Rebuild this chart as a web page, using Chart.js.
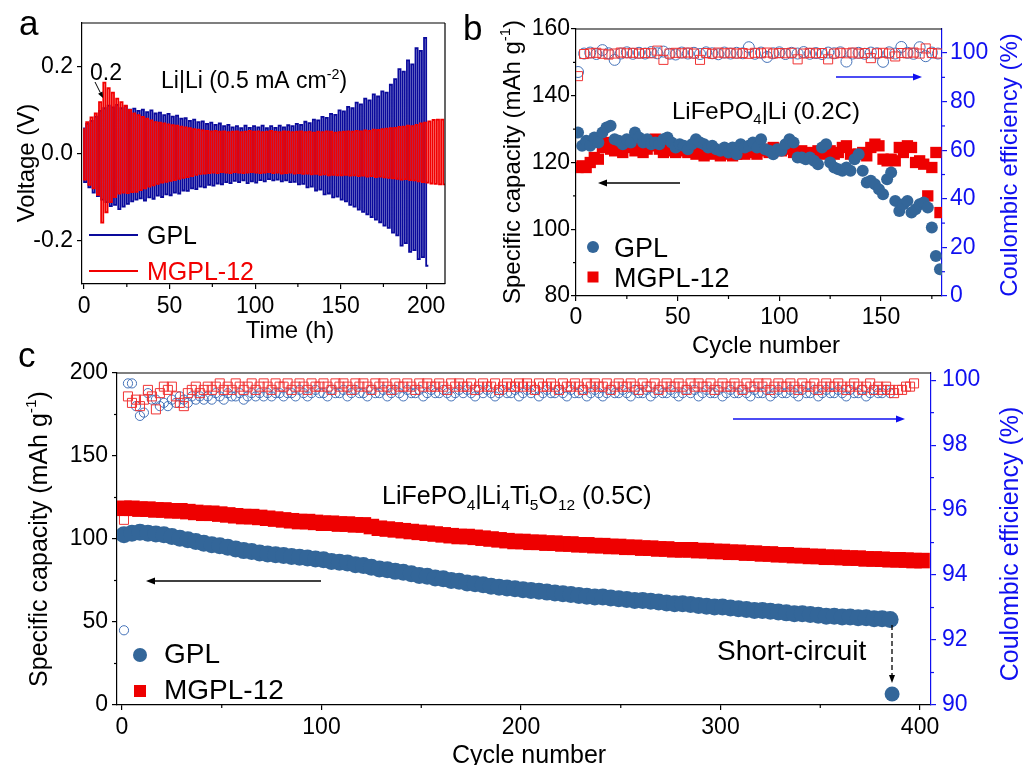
<!DOCTYPE html>
<html>
<head>
<meta charset="utf-8">
<script src="https://cdn.jsdelivr.net/npm/chart.js@4.4.1/dist/chart.umd.min.js"></script>
<style>
  html, body { margin: 0; padding: 0; background: #fff; }
  #wrap { position: relative; width: 1024px; height: 765px; overflow: hidden; background: #fff; }
  #wrap canvas { position: absolute; left: 0; top: 0; }
</style>
</head>
<body>
<div id="wrap">
  <canvas id="chartA" width="1024" height="765"></canvas>
  <canvas id="chartB" width="1024" height="765"></canvas>
  <canvas id="chartC" width="1024" height="765"></canvas>
</div>
<script>
// ---------------------------------------------------------------------------
// (a) Li|Li symmetric cells, 0.5 mA cm-2: plateau voltage of every half cycle.
//     Each cycle lasts 2 x aHalfCycleHours; upper = plating plateau, lower = stripping plateau.
// ---------------------------------------------------------------------------
const aHalfCycleHours = 1.25;
const aGplUpper = [
  0.060, 0.068, 0.075, 0.085, 0.098, 0.104, 0.110, 0.106, 0.112, 0.104,
  0.109, 0.101, 0.103, 0.098, 0.101, 0.095, 0.099, 0.092, 0.094, 0.088,
  0.091, 0.085, 0.087, 0.080, 0.081, 0.075, 0.078, 0.072, 0.074, 0.068,
  0.071, 0.066, 0.069, 0.063, 0.066, 0.060, 0.063, 0.058, 0.064, 0.059,
  0.063, 0.060, 0.064, 0.058, 0.063, 0.059, 0.064, 0.060, 0.065, 0.063,
  0.068, 0.066, 0.073, 0.070, 0.078, 0.076, 0.084, 0.082, 0.091, 0.089,
  0.099, 0.097, 0.107, 0.104, 0.117, 0.113, 0.126, 0.122, 0.136, 0.131,
  0.143, 0.140, 0.158, 0.171, 0.194, 0.188, 0.214, 0.205, 0.242, 0.236,
  0.266
];
const aGplLower = [
  -0.066, -0.078, -0.090, -0.098, -0.106, -0.112, -0.121, -0.118, -0.128, -0.122,
  -0.116, -0.110, -0.106, -0.103, -0.108, -0.101, -0.104, -0.097, -0.100, -0.094,
  -0.096, -0.090, -0.092, -0.085, -0.086, -0.080, -0.082, -0.076, -0.078, -0.072,
  -0.074, -0.069, -0.071, -0.066, -0.068, -0.063, -0.066, -0.062, -0.068, -0.064,
  -0.067, -0.061, -0.064, -0.059, -0.062, -0.060, -0.064, -0.062, -0.066, -0.065,
  -0.071, -0.070, -0.078, -0.076, -0.085, -0.083, -0.094, -0.092, -0.101, -0.099,
  -0.106, -0.110, -0.118, -0.122, -0.129, -0.134, -0.140, -0.146, -0.152, -0.158,
  -0.166, -0.171, -0.182, -0.188, -0.212, -0.206, -0.226, -0.222, -0.243, -0.238,
  -0.258
];
const aMgplUpper = [
  0.058, 0.072, 0.083, 0.092, 0.118, 0.163, 0.150, 0.140, 0.126, 0.118,
  0.110, 0.100, 0.092, 0.088, 0.084, 0.080, 0.076, 0.072, 0.071, 0.069,
  0.067, 0.065, 0.064, 0.062, 0.060, 0.058, 0.056, 0.055, 0.053, 0.052,
  0.051, 0.052, 0.050, 0.051, 0.049, 0.050, 0.051, 0.049, 0.050, 0.052,
  0.050, 0.051, 0.049, 0.050, 0.052, 0.050, 0.049, 0.051, 0.050, 0.049,
  0.050, 0.051, 0.049, 0.050, 0.048, 0.050, 0.049, 0.051, 0.050, 0.048,
  0.049, 0.050, 0.051, 0.050, 0.052, 0.051, 0.053, 0.052, 0.055, 0.054,
  0.056, 0.057, 0.058, 0.059, 0.061, 0.062, 0.064, 0.063, 0.066, 0.069,
  0.071, 0.074, 0.077, 0.078, 0.078
];
const aMgplLower = [
  -0.060, -0.072, -0.080, -0.095, -0.159, -0.135, -0.112, -0.100, -0.092, -0.090,
  -0.091, -0.089, -0.088, -0.084, -0.080, -0.076, -0.073, -0.070, -0.067, -0.065,
  -0.063, -0.061, -0.058, -0.056, -0.054, -0.052, -0.049, -0.047, -0.046, -0.045,
  -0.044, -0.045, -0.043, -0.044, -0.045, -0.043, -0.044, -0.045, -0.044, -0.043,
  -0.044, -0.045, -0.044, -0.043, -0.045, -0.044, -0.046, -0.045, -0.044, -0.046,
  -0.045, -0.047, -0.046, -0.048, -0.047, -0.049, -0.048, -0.050, -0.049, -0.050,
  -0.050, -0.049, -0.051, -0.050, -0.052, -0.051, -0.053, -0.052, -0.054, -0.053,
  -0.055, -0.056, -0.057, -0.058, -0.060, -0.059, -0.061, -0.062, -0.064, -0.066,
  -0.067, -0.069, -0.070, -0.071, -0.071
];
const aTimeTicks = [0, 50, 100, 150, 200];
const aTimeMinor = [25, 75, 125, 175];
const aVoltTicks = [-0.2, 0, 0.2];

// ---------------------------------------------------------------------------
// (b) LiFePO4|Li at 0.2C. Capacity on cycles 1,3,5,...; efficiency on cycles 1,4,7,...
// ---------------------------------------------------------------------------
const bCapCycleStep = 2;
const bGplCapacity = [
  129, 125, 126.5, 125, 127.5, 126, 129, 130.5, 131, 127,
  126.5, 125.5, 127, 126, 129, 127.5, 126, 127, 125.5, 126,
  125.5, 127, 127.5, 126, 124.5, 125.5, 125, 124, 125.5, 127,
  126, 125.5, 124.5, 125, 124, 123.5, 124.5, 123, 124.5, 122.5,
  125.5, 124.5, 125, 126, 124.5, 127, 124, 123.5, 122.5, 124,
  123.5, 125.5, 127, 126, 121.5, 121.5, 121, 121.5, 120.5, 119.5,
  124.5, 125.5, 120, 118.5, 118, 117.5, 118.5, 117.5, 121, 122.5,
  117.5, 114, 114.5, 113.5, 112, 110.5, 115, 117, 108.5, 105.5,
  107.5, 108.5, 105, 106, 107.5, 108, 106.5, 100.5, 92, 88
];
const bMgplCapacity = [
  118.5, 119, 118.5, 120, 121.5, 121, 124.5, 126, 124, 123.5,
  124.5, 123, 124.5, 125, 123.5, 124.5, 123, 124, 125, 127,
  124, 123, 124.5, 123.5, 123, 123.5, 124, 123, 123.5, 122.5,
  123, 122, 123, 122.5, 123.5, 122, 122.5, 123, 122, 122.5,
  123.5, 122.5, 124, 123, 122.5, 123.5, 124, 123, 124.5, 124,
  123.5, 124.5, 124, 123, 122.5, 123.5, 122.5, 123, 122.5, 123.5,
  122.5, 123, 123.5, 122.5, 123, 124.5, 125, 122.5, 122, 122.5,
  123, 122, 124.5, 125.5, 125, 121, 120.5, 121, 120.5, 124.5,
  123, 125, 124.5, 120, 120.5, 119.5, 110, 118.5, 123, 105
];
const bCeCycleStep = 3;
const bGplCE = [
  92.2, 99.8, 100.2, 99.6, 101.2, 99.9, 97.2, 99.8, 100.3, 99.7,
  100.1, 99.8, 100.4, 99.9, 100.6, 99.7, 99.4, 100.2, 99.8, 100.1,
  99.6, 100.3, 99.9, 99.5, 100.2, 99.8, 100.1, 99.9, 102.4, 99.7,
  100.2, 98.4, 99.9, 100.3, 99.6, 100.1, 99.8, 100.4, 99.7, 100.0,
  99.6, 100.2, 99.9, 100.3, 96.5, 99.8, 100.1, 99.7, 100.2, 99.9,
  96.4, 100.3, 99.8, 102.5, 100.1, 99.7, 102.4, 98.7, 100.2, 99.8
];
const bMgplCE = [
  90.5, 99.6, 99.9, 100.1, 99.7, 99.4, 99.8, 100.2, 99.9, 100.1,
  99.8, 100.0, 99.9, 101.0, 97.2, 99.8, 100.1, 99.9, 100.2, 99.8,
  97.2, 100.0, 99.7, 100.2, 99.9, 100.1, 99.8, 100.0, 99.7, 100.1,
  99.9, 100.2, 99.8, 100.0, 99.9, 100.1, 97.4, 99.8, 100.1, 99.9,
  100.0, 97.4, 99.8, 100.1, 99.9, 100.2, 99.8, 100.0, 97.9, 99.9,
  100.1, 99.8, 98.6, 100.0, 99.9, 100.2, 99.8, 101.9, 100.0, 99.8
];
const bCycleTicks = [0, 50, 100, 150];
const bCycleMinor = [25, 75, 125, 175];
const bCapTicks = [80, 100, 120, 140, 160];
const bCapMinor = [90, 110, 130, 150];
const bCeTicks = [0, 20, 40, 60, 80, 100];
const bCeMinor = [10, 30, 50, 70, 90];

// ---------------------------------------------------------------------------
// (c) LiFePO4|Li4Ti5O12 at 0.5C. Capacity on cycles 1,5,9,...; efficiency on cycles 1,3,5,...
// ---------------------------------------------------------------------------
const cCapCycleStep = 4;
const cGplCapacity = [
  102.5, 103.5, 104, 103.5, 103, 102.5, 101.5, 100.5, 99.5, 98.5,
  97.5, 96.5, 96, 95, 94, 93, 92.5, 91.5, 91, 90.5,
  90, 89.5, 89, 88.5, 88, 87.5, 86.5, 86, 85.5, 84.5,
  84, 83, 82, 81.5, 80.5, 80, 79, 78, 77.5, 76.5,
  76, 75, 74.5, 73.5, 73, 72.5, 71.5, 71, 70.5, 70,
  69.5, 69, 68.5, 68, 67.5, 67, 66.5, 66, 65.5, 65,
  65, 64.5, 64, 63.5, 63, 63, 62.5, 62, 61.5, 61,
  61, 60.5, 60, 59.5, 59, 59, 58.5, 58, 57.5, 57,
  57, 56.5, 56, 55.5, 55, 55, 54.5, 54, 53.5, 53.5,
  53, 53, 52.5, 52.5, 52, 52, 51.5
];
const cMgplCapacity = [
  118.5, 118.5, 118, 118, 117.5, 117.5, 117, 117, 116.5, 116,
  115.5, 115.5, 115, 114.5, 114, 113.5, 113.5, 113, 112.5, 112,
  111.5, 111, 110.5, 110.5, 110, 109.5, 109.5, 109, 109, 108.5,
  108.5, 107.5, 106.5, 106, 105.5, 105, 104.5, 104, 103.5, 103,
  102.5, 102, 101.5, 101.5, 101, 100.5, 100, 99.5, 99, 98.5,
  98.5, 98, 98, 97.5, 97.5, 97, 97, 96.5, 96.5, 96,
  96, 95.5, 95.5, 95, 95, 94.5, 94.5, 94, 94, 93.5,
  93.5, 93.5, 93, 93, 92.5, 92.5, 92, 92, 91.5, 91.5,
  91, 91, 90.5, 90.5, 90, 90, 89.5, 89.5, 89, 89,
  88.8, 88.5, 88.5, 88, 88, 87.8, 87.5, 87.5, 87.3, 87,
  87
];
const cCeCycleStep = 2;
const cGplCE = [
  92.3, 99.9, 99.9, 99.2, 98.9, 99.0, 99.6, 99.4, 99.4, 99.2, 99.3, 99.2, 99.4, 99.3, 99.5, 99.4, 99.3, 99.5, 99.4, 99.5,
  99.4, 99.5, 99.4, 99.6, 99.5, 99.4, 99.6, 99.5, 99.5, 99.6, 99.4, 99.5, 99.6, 99.5, 99.6, 99.5, 99.6, 99.5, 99.6, 99.6,
  99.5, 99.6, 99.6, 99.5, 99.7, 99.6, 99.5, 99.6, 99.7, 99.6, 99.6, 99.5, 99.7, 99.6, 99.6, 99.7, 99.5, 99.6, 99.7, 99.6,
  99.6, 99.5, 99.7, 99.6, 99.6, 99.7, 99.5, 99.6, 99.7, 99.6, 99.5, 99.7, 99.6, 99.6, 99.7, 99.5, 99.6, 99.7, 99.6, 99.6,
  99.7, 99.6, 99.5, 99.6, 99.7, 99.6, 99.7, 99.6, 99.5, 99.7, 99.6, 99.7, 99.6, 99.5, 99.6, 99.7, 99.6, 99.6, 99.7, 99.5,
  99.6, 99.7, 99.6, 99.7, 99.5, 99.6, 99.7, 99.6, 99.6, 99.7, 99.6, 99.5, 99.7, 99.6, 99.6, 99.7, 99.5, 99.6, 99.7, 99.6,
  99.5, 99.6, 99.7, 99.6, 99.6, 99.7, 99.6, 99.5, 99.7, 99.6, 99.6, 99.7, 99.5, 99.6, 99.7, 99.6, 99.6, 99.7, 99.6, 99.5,
  99.6, 99.7, 99.6, 99.7, 99.5, 99.6, 99.7, 99.6, 99.6, 99.7, 99.5, 99.6, 99.7, 99.6, 99.6, 99.7, 99.6, 99.5, 99.7, 99.6,
  99.6, 99.7, 99.5, 99.6, 99.7, 99.6, 99.6, 99.7, 99.6, 99.5, 99.7, 99.6, 99.6, 99.7, 99.5, 99.6, 99.7, 99.6, 99.6, 99.7,
  99.6, 99.5, 99.7, 99.6, 99.6, 99.7, 99.5, 99.6, 99.7, 99.6, 99.6, 99.7, 99.6
];
const cMgplCE = [
  95.7, 99.5, 99.3, 99.4, 99.2, 99.4, 99.7, 99.5, 99.1, 99.6, 99.8, 99.7, 99.8, 99.5, 99.3, 99.2, 99.6, 99.7, 99.8, 99.6,
  99.7, 99.8, 99.7, 99.8, 99.9, 99.7, 99.8, 99.7, 99.9, 99.8, 99.7, 99.8, 99.9, 99.7, 99.8, 99.9, 99.8, 99.7, 99.9, 99.8,
  99.8, 99.9, 99.7, 99.8, 99.9, 99.8, 99.7, 99.9, 99.8, 99.8, 99.9, 99.8, 99.7, 99.9, 99.8, 99.9, 99.8, 99.7, 99.9, 99.8,
  99.9, 99.8, 99.7, 99.9, 99.8, 99.9, 99.8, 99.7, 99.9, 99.8, 99.8, 99.9, 99.8, 99.7, 99.9, 99.8, 99.9, 99.8, 99.8, 99.9,
  99.8, 99.7, 99.9, 99.8, 99.9, 99.8, 99.8, 99.9, 99.7, 99.8, 99.9, 99.8, 99.8, 99.9, 99.7, 99.8, 99.9, 99.8, 99.8, 99.9,
  99.8, 99.9, 99.8, 99.7, 99.9, 99.8, 99.8, 99.9, 99.8, 99.7, 99.9, 99.8, 99.8, 99.9, 99.8, 99.7, 99.9, 99.8, 99.9, 99.8,
  99.8, 99.9, 99.7, 99.8, 99.9, 99.8, 99.8, 99.9, 99.8, 99.7, 99.9, 99.8, 99.8, 99.9, 99.7, 99.8, 99.9, 99.8, 99.8, 99.9,
  99.8, 99.7, 99.9, 99.8, 99.9, 99.8, 99.8, 99.9, 99.7, 99.8, 99.9, 99.8, 99.8, 99.9, 99.8, 99.7, 99.9, 99.8, 99.8, 99.9,
  99.8, 99.9, 99.7, 99.8, 99.9, 99.8, 99.8, 99.9, 99.8, 99.7, 99.9, 99.8, 99.8, 99.9, 99.7, 99.8, 99.9, 99.8, 99.8, 99.9,
  99.8, 99.7, 99.8, 99.9, 99.8, 99.7, 99.8, 99.9, 99.7, 99.8, 99.7, 99.8, 99.7, 99.6, 99.7, 99.7, 99.8, 99.8, 99.9
];
const cShortCircuitCycle = [386];
const cShortCircuitCapacity = [6.6];
const cCycleTicks = [0, 100, 200, 300, 400];
const cCycleMinor = [50, 150, 250, 350];
const cCapTicks = [0, 50, 100, 150, 200];
const cCapMinor = [25, 75, 125, 175];
const cCeTicks = [90, 92, 94, 96, 98, 100];
const cCeMinor = [91, 93, 95, 97, 99];

// ---------------------------------------------------------------------------
// Styling
// ---------------------------------------------------------------------------
const FONT = '"Liberation Sans", Arial, Helvetica, sans-serif';
const BLACK = '#000000';
const AXIS_BLUE = '#1010f0';
const GPL_LINE = '#0a0a9c';
const MGPL_LINE = '#f20000';
const GPL_DOT = '#336699';
const MGPL_DOT = '#ee0000';
const GPL_RING = '#4472b8';
const MGPL_RING = '#f03434';
const W = 1024, H = 765;

// voltage trace: plating plateau then stripping plateau for each cycle
function cyclePoints(upper, lower) {
  const pts = [];
  upper.forEach((u, i) => {
    pts.push({ x: 2 * i * aHalfCycleHours, y: u });
    if (i < lower.length) pts.push({ x: (2 * i + 1) * aHalfCycleHours, y: lower[i] });
  });
  return pts;
}
// cycle-indexed series starting at cycle 1
function cyclesSeries(values, step) {
  return values.map((v, i) => ({ x: 1 + step * i, y: v }));
}
function pairs(xs, ys) {
  return xs.map((x, i) => ({ x, y: ys[i] }));
}

// text with optional sub/superscript runs; y is the middle of the capitals
function drawRich(ctx, t) {
  const size = t.size, color = t.color || BLACK;
  ctx.save();
  ctx.translate(t.x, t.y);
  if (t.rot) ctx.rotate(t.rot);
  ctx.fillStyle = color;
  ctx.textBaseline = 'alphabetic';
  ctx.textAlign = 'left';
  const runs = t.parts.map(p => typeof p === 'string'
    ? { s: p, fs: size, dy: 0 }
    : { s: p.t, fs: size * 0.62, dy: p.sub ? size * 0.24 : -size * 0.42 });
  let total = 0;
  runs.forEach(r => { ctx.font = r.fs + 'px ' + FONT; r.w = ctx.measureText(r.s).width; total += r.w; });
  let cx = t.align === 'center' ? -total / 2 : 0;
  const base = 0.358 * size;
  runs.forEach(r => { ctx.font = r.fs + 'px ' + FONT; ctx.fillText(r.s, cx, base + r.dy); cx += r.w; });
  ctx.restore();
}

function drawArrow(ctx, a) {
  const head = a.head || 9, half = a.half || 3.5;
  const ang = Math.atan2(a.y2 - a.y1, a.x2 - a.x1);
  const bx = a.x2 - head * Math.cos(ang), by = a.y2 - head * Math.sin(ang);
  ctx.save();
  ctx.strokeStyle = a.color; ctx.fillStyle = a.color; ctx.lineWidth = a.width || 1.3;
  if (a.dash) ctx.setLineDash(a.dash);
  ctx.beginPath(); ctx.moveTo(a.x1, a.y1); ctx.lineTo(bx, by); ctx.stroke();
  ctx.setLineDash([]);
  ctx.beginPath();
  ctx.moveTo(a.x2, a.y2);
  ctx.lineTo(bx + half * Math.sin(ang), by - half * Math.cos(ang));
  ctx.lineTo(bx - half * Math.sin(ang), by + half * Math.cos(ang));
  ctx.closePath(); ctx.fill();
  ctx.restore();
}

function drawMark(ctx, m) {
  ctx.save();
  ctx.fillStyle = m.color; ctx.strokeStyle = m.color;
  if (m.shape === 'circle') {
    ctx.beginPath(); ctx.arc(m.x, m.y, m.r, 0, Math.PI * 2); ctx.fill();
  } else if (m.shape === 'square') {
    ctx.fillRect(m.x - m.r, m.y - m.r, 2 * m.r, 2 * m.r);
  } else if (m.shape === 'line') {
    ctx.lineWidth = m.width || 2;
    ctx.beginPath(); ctx.moveTo(m.x, m.y); ctx.lineTo(m.x2, m.y); ctx.stroke();
  }
  ctx.restore();
}

// frame, minor ticks, titles, legend and annotations
function decorations(d) {
  return {
    id: 'decorations',
    afterDraw(chart) {
      const ctx = chart.ctx, a = chart.chartArea;
      ctx.save();
      ctx.lineWidth = 1.2;
      ctx.strokeStyle = BLACK;
      ctx.beginPath(); ctx.moveTo(a.left, a.top); ctx.lineTo(a.right, a.top); ctx.stroke();
      if (d.rightFrame) { ctx.beginPath(); ctx.moveTo(a.right, a.top); ctx.lineTo(a.right, a.bottom); ctx.stroke(); }
      const minorLen = 3;
      (d.minorX || []).forEach(v => {
        const p = chart.scales.x.getPixelForValue(v);
        ctx.beginPath(); ctx.moveTo(p, a.bottom); ctx.lineTo(p, a.bottom + minorLen); ctx.stroke();
      });
      (d.minorY || []).forEach(v => {
        const p = chart.scales.y.getPixelForValue(v);
        ctx.beginPath(); ctx.moveTo(a.left, p); ctx.lineTo(a.left - minorLen, p); ctx.stroke();
      });
      ctx.strokeStyle = AXIS_BLUE;
      (d.minorY2 || []).forEach(v => {
        const p = chart.scales.y2.getPixelForValue(v);
        ctx.beginPath(); ctx.moveTo(a.right, p); ctx.lineTo(a.right + minorLen, p); ctx.stroke();
      });
      ctx.restore();
      (d.marks || []).forEach(m => drawMark(ctx, m));
      (d.arrows || []).forEach(ar => drawArrow(ctx, ar));
      (d.texts || []).forEach(t => drawRich(ctx, t));
    }
  };
}

function axis(o) {
  const horizontal = o.position === 'bottom';
  return {
    type: 'linear',
    position: o.position,
    min: o.min,
    max: o.max,
    afterBuildTicks: s => { s.ticks = o.values.map(v => ({ value: v })); },
    afterFit: s => { if (horizontal) s.height = o.box; else s.width = o.box; },
    grid: {
      display: true, drawOnChartArea: false, drawTicks: true,
      tickLength: 5, tickWidth: 1.2, tickColor: o.color, color: o.color, lineWidth: 1.2
    },
    border: { display: true, color: o.color, width: 1.2 },
    ticks: {
      color: o.color, padding: o.pad, autoSkip: false, maxRotation: 0, minRotation: 0,
      font: { family: FONT, size: 23 },
      callback: v => (o.fmt ? o.fmt(v) : String(v))
    },
    title: { display: false }
  };
}

function makeChart(id, area, scales, datasets, deco) {
  const rightBox = scales.y2 ? 60 : 0;
  const xBox = 40;
  return new Chart(document.getElementById(id), {
    type: 'scatter',
    data: { datasets },
    options: {
      responsive: false,
      animation: false,
      devicePixelRatio: 1,
      events: [],
      layout: {
        autoPadding: false,
        padding: { left: 0, top: area.top, right: W - area.right - rightBox, bottom: H - area.bottom - xBox }
      },
      plugins: { legend: { display: false }, tooltip: { enabled: false } },
      scales
    },
    plugins: [decorations(deco)]
  });
}

// ---------------------------------------------------------------------------
// Panel a
// ---------------------------------------------------------------------------
const areaA = { left: 82, right: 445, top: 23, bottom: 284 };
makeChart('chartA', areaA, {
  x: axis({ position: 'bottom', min: -1.2, max: 211, values: aTimeTicks, color: BLACK, pad: 4, box: 40 }),
  y: axis({ position: 'left', min: -0.3, max: 0.3, values: aVoltTicks, color: BLACK, pad: 4, box: areaA.left,
            fmt: v => v.toFixed(1) })
}, [
  { label: 'MGPL-12', data: cyclePoints(aMgplUpper, aMgplLower), showLine: true, stepped: 'after',
    borderColor: MGPL_LINE, borderWidth: 1.8, pointRadius: 0 },
  { label: 'GPL', data: cyclePoints(aGplUpper, aGplLower), showLine: true, stepped: 'after',
    borderColor: GPL_LINE, borderWidth: 1.8, pointRadius: 0 }
], {
  rightFrame: true,
  minorX: aTimeMinor,
  marks: [
    { shape: 'line', x: 89, x2: 138, y: 235, color: GPL_LINE, width: 2 },
    { shape: 'line', x: 89, x2: 138, y: 271, color: MGPL_LINE, width: 2 }
  ],
  arrows: [ { x1: 95, y1: 82, x2: 103, y2: 98, color: BLACK, head: 6, half: 2.5, width: 1 } ],
  texts: [
    { parts: ['a'], x: 19, y: 22.5, size: 35 },
    { parts: ['0.2'], x: 90, y: 72, size: 23 },
    { parts: ['Li|Li (0.5 mA cm', { t: '-2', sup: true }, ')'], x: 161, y: 80, size: 23 },
    { parts: ['Voltage (V)'], x: 25, y: 163, size: 24, align: 'center', rot: -Math.PI / 2 },
    { parts: ['Time (h)'], x: 290, y: 329, size: 24, align: 'center' },
    { parts: ['GPL'], x: 147, y: 235, size: 25 },
    { parts: ['MGPL-12'], x: 147, y: 271, size: 25, color: MGPL_LINE }
  ]
});

// ---------------------------------------------------------------------------
// Panel b
// ---------------------------------------------------------------------------
const areaB = { left: 576, right: 942, top: 29, bottom: 296 };
makeChart('chartB', areaB, {
  x: axis({ position: 'bottom', min: 0, max: 180, values: bCycleTicks, color: BLACK, pad: 3, box: 40 }),
  y: axis({ position: 'left', min: 80, max: 160, values: bCapTicks, color: BLACK, pad: 1, box: areaB.left }),
  y2: axis({ position: 'right', min: 0, max: 109.9, values: bCeTicks, color: AXIS_BLUE, pad: 3, box: 60 })
}, [
  { label: 'MGPL-12 CE', yAxisID: 'y2', data: cyclesSeries(bMgplCE, bCeCycleStep), pointStyle: 'rect',
    pointRadius: 6.4, pointBackgroundColor: 'rgba(0,0,0,0)', pointBorderColor: MGPL_RING, pointBorderWidth: 1 },
  { label: 'GPL CE', yAxisID: 'y2', data: cyclesSeries(bGplCE, bCeCycleStep), pointStyle: 'circle',
    pointRadius: 5.5, pointBackgroundColor: 'rgba(0,0,0,0)', pointBorderColor: GPL_RING, pointBorderWidth: 1 },
  { label: 'GPL', yAxisID: 'y', data: cyclesSeries(bGplCapacity, bCapCycleStep), pointStyle: 'circle',
    pointRadius: 6, pointBackgroundColor: GPL_DOT, pointBorderColor: GPL_DOT, pointBorderWidth: 0 },
  { label: 'MGPL-12', yAxisID: 'y', data: cyclesSeries(bMgplCapacity, bCapCycleStep), pointStyle: 'rect',
    pointRadius: 8, pointBackgroundColor: MGPL_DOT, pointBorderColor: MGPL_DOT, pointBorderWidth: 0 }
], {
  minorX: bCycleMinor, minorY: bCapMinor, minorY2: bCeMinor,
  marks: [
    { shape: 'circle', x: 593, y: 247, r: 6, color: GPL_DOT },
    { shape: 'square', x: 593, y: 277, r: 5.5, color: MGPL_DOT }
  ],
  arrows: [
    { x1: 680, y1: 183, x2: 598, y2: 183, color: BLACK },
    { x1: 836, y1: 77, x2: 922, y2: 77, color: AXIS_BLUE }
  ],
  texts: [
    { parts: ['b'], x: 463, y: 27.5, size: 35 },
    { parts: ['LiFePO', { t: '4', sub: true }, '|Li (0.2C)'], x: 672, y: 110, size: 24 },
    { parts: ['Specific capacity (mAh g', { t: '-1', sup: true }, ')'], x: 511, y: 162, size: 24, align: 'center', rot: -Math.PI / 2 },
    { parts: ['Coulombic efficiency (%)'], x: 1008, y: 165, size: 24, align: 'center', rot: -Math.PI / 2, color: AXIS_BLUE },
    { parts: ['Cycle number'], x: 766, y: 344, size: 24, align: 'center' },
    { parts: ['GPL'], x: 614, y: 247, size: 27 },
    { parts: ['MGPL-12'], x: 614, y: 277, size: 27 }
  ]
});

// ---------------------------------------------------------------------------
// Panel c
// ---------------------------------------------------------------------------
const areaC = { left: 117, right: 931, top: 373, bottom: 705 };
makeChart('chartC', areaC, {
  x: axis({ position: 'bottom', min: -2.5, max: 405.5, values: cCycleTicks, color: BLACK, pad: 4, box: 40 }),
  y: axis({ position: 'left', min: 0, max: 200, values: cCapTicks, color: BLACK, pad: 4, box: areaC.left }),
  y2: axis({ position: 'right', min: 90, max: 100.22, values: cCeTicks, color: AXIS_BLUE, pad: 6, box: 60 })
}, [
  { label: 'GPL short-circuit', yAxisID: 'y', data: pairs(cShortCircuitCycle, cShortCircuitCapacity), pointStyle: 'circle',
    pointRadius: 7.5, pointBackgroundColor: GPL_DOT, pointBorderColor: GPL_DOT, pointBorderWidth: 0 },
  { label: 'GPL', yAxisID: 'y', data: cyclesSeries(cGplCapacity, cCapCycleStep), pointStyle: 'circle',
    pointRadius: 8.5, pointBackgroundColor: GPL_DOT, pointBorderColor: GPL_DOT, pointBorderWidth: 0 },
  { label: 'MGPL-12', yAxisID: 'y', data: cyclesSeries(cMgplCapacity, cCapCycleStep), pointStyle: 'rect',
    pointRadius: 11, pointBackgroundColor: MGPL_DOT, pointBorderColor: MGPL_DOT, pointBorderWidth: 0 },
  { label: 'MGPL-12 CE', yAxisID: 'y2', data: cyclesSeries(cMgplCE, cCeCycleStep), pointStyle: 'rect',
    pointRadius: 6.4, pointBackgroundColor: 'rgba(0,0,0,0)', pointBorderColor: MGPL_RING, pointBorderWidth: 1 },
  { label: 'GPL CE', yAxisID: 'y2', data: cyclesSeries(cGplCE, cCeCycleStep), pointStyle: 'circle',
    pointRadius: 4.6, pointBackgroundColor: 'rgba(0,0,0,0)', pointBorderColor: GPL_RING, pointBorderWidth: 1 }
], {
  minorX: cCycleMinor, minorY: cCapMinor, minorY2: cCeMinor,
  marks: [
    { shape: 'circle', x: 140, y: 655, r: 7, color: GPL_DOT },
    { shape: 'square', x: 140, y: 691, r: 6, color: MGPL_DOT }
  ],
  arrows: [
    { x1: 321, y1: 581, x2: 146, y2: 581, color: BLACK },
    { x1: 733, y1: 419, x2: 905, y2: 419, color: AXIS_BLUE },
    { x1: 892, y1: 625, x2: 892, y2: 683, color: BLACK, dash: [5, 3], head: 8, half: 3 }
  ],
  texts: [
    { parts: ['c'], x: 18, y: 354.5, size: 35 },
    { parts: ['LiFePO', { t: '4', sub: true }, '|Li', { t: '4', sub: true }, 'Ti', { t: '5', sub: true }, 'O', { t: '12', sub: true }, ' (0.5C)'],
      x: 382, y: 495, size: 25 },
    { parts: ['Specific capacity (mAh g', { t: '-1', sup: true }, ')'], x: 38, y: 539, size: 25, align: 'center', rot: -Math.PI / 2 },
    { parts: ['Coulombic efficiency (%)'], x: 1009, y: 544, size: 25, align: 'center', rot: -Math.PI / 2, color: AXIS_BLUE },
    { parts: ['Cycle number'], x: 529, y: 754, size: 25, align: 'center' },
    { parts: ['GPL'], x: 164, y: 653, size: 28 },
    { parts: ['MGPL-12'], x: 164, y: 689, size: 28 },
    { parts: ['Short-circuit'], x: 717, y: 650, size: 28 }
  ]
});
</script>
</body>
</html>
